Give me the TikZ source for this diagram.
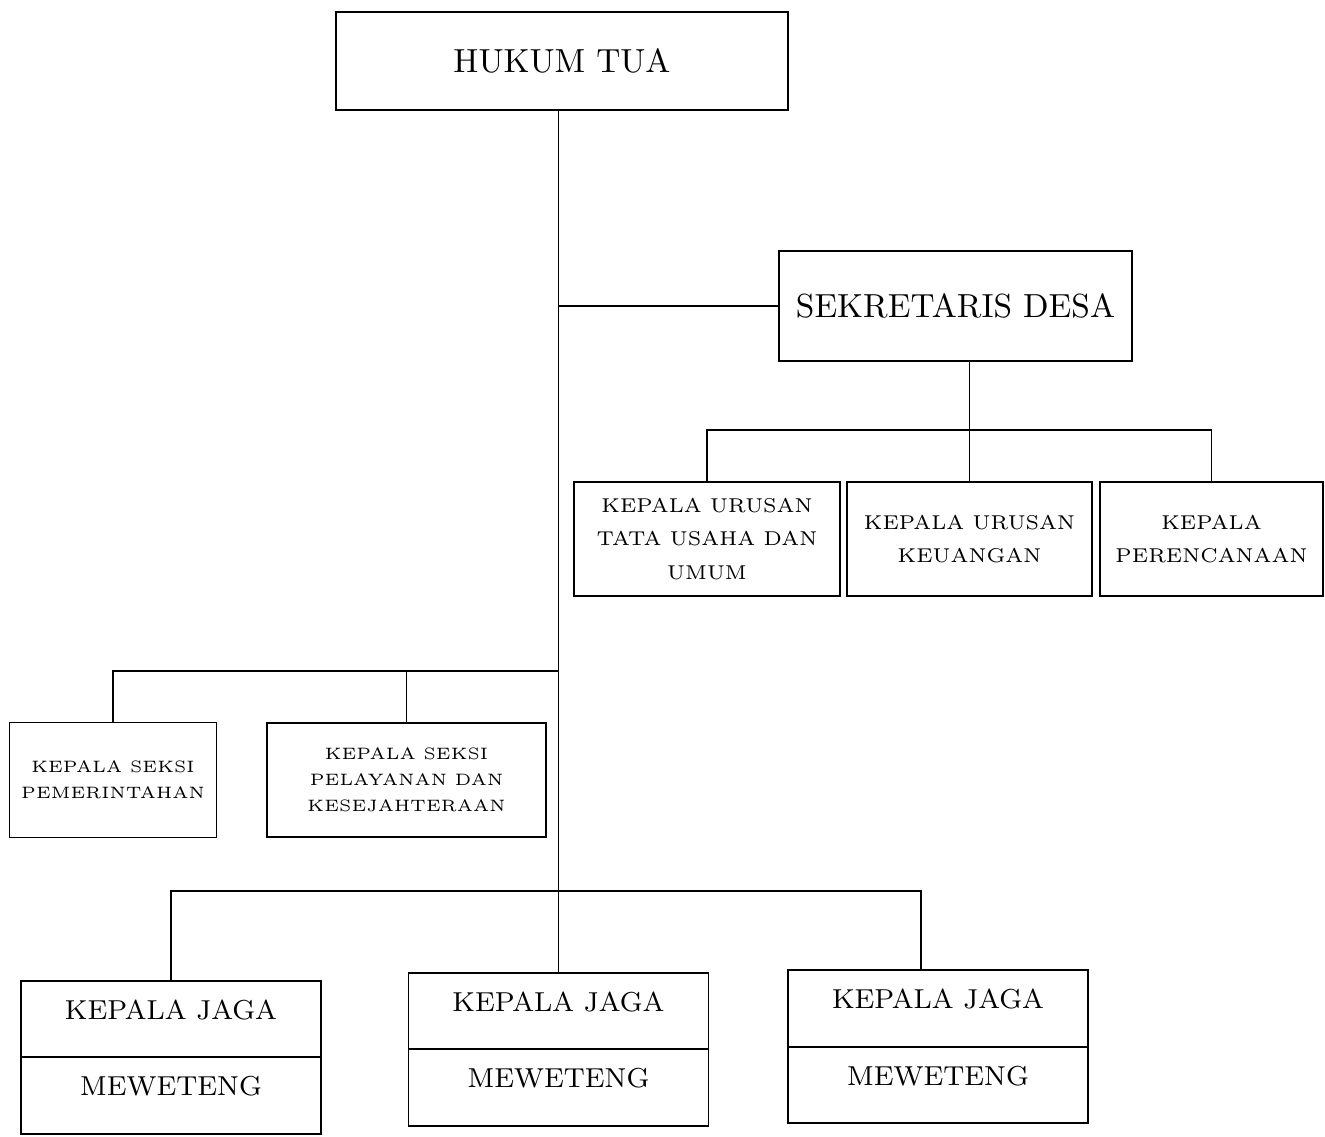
\documentclass[tikz,border=0pt]{standalone}
\usepackage{tikz}
\usetikzlibrary{positioning}

\begin{document}
\begin{tikzpicture}[node distance=2cm, line width=0.45pt]
    \tikzstyle{jabatan} = [draw, rectangle, font=\fontsize{9.5}{11}\selectfont]
    \tikzstyle{urusan} = [draw, rectangle, align=center, minimum height=1.14cm, font=\fontsize{5.7}{9.4}\selectfont]
    \tikzstyle{seksi} = [draw, rectangle, align=center, minimum height=1.15cm, font=\fontsize{4.7}{7.4}\selectfont]
    \tikzstyle{jaga} = [draw, rectangle, minimum width=3cm, minimum height=0.765cm, text height=1.9mm, text depth=1.9mm, font=\fontsize{7.8}{9}\selectfont]

    \useasboundingbox (0,0) rectangle (13.25,-11.36);

    \node [jabatan, minimum width=4.52cm, minimum height=0.98cm] (hukum) at (5.62,-0.61) {HUKUM TUA};
    \node [jabatan, below of=hukum, node distance=2.45cm, xshift=3.935cm, minimum width=3.53cm, minimum height=1.10cm] (sekdes) {SEKRETARIS DESA};

    \node [urusan, minimum width=2.66cm] (tatausaha) at (7.07,-5.39) {KEPALA URUSAN\\TATA USAHA DAN\\UMUM};
    \node [urusan, right of=tatausaha, node distance=2.625cm, minimum width=2.45cm] (keuangan) {KEPALA URUSAN\\KEUANGAN};
    \node [urusan, right of=keuangan, node distance=2.42cm, minimum width=2.23cm] (perencanaan) {KEPALA\\PERENCANAAN};

    \node [seksi, minimum width=2.06cm] (pemerintahan) at (1.13,-7.80) {KEPALA SEKSI\\PEMERINTAHAN};
    \node [seksi, right of=pemerintahan, node distance=2.935cm, minimum width=2.79cm, minimum height=1.14cm] (pelayanan) {KEPALA SEKSI\\PELAYANAN DAN\\KESEJAHTERAAN};

    \node [jaga] (jagaA) at (1.71,-10.19) {KEPALA JAGA};
    \node [jaga, below of=jagaA, node distance=0.765cm] (wilA) {MEWETENG};
    \node [jaga, right of=jagaA, node distance=3.875cm, yshift=0.08cm] (jagaB) {KEPALA JAGA};
    \node [jaga, below of=jagaB, node distance=0.765cm] (wilB) {MEWETENG};
    \node [jaga, right of=jagaB, node distance=3.795cm, yshift=0.025cm] (jagaC) {KEPALA JAGA};
    \node [jaga, below of=jagaC, node distance=0.765cm] (wilC) {MEWETENG};

    % garis komando
    \draw (hukum.south -| jagaB.north) -- (jagaB.north);
    \draw (sekdes.west) -- (sekdes.west -| jagaB.north);

    \draw (sekdes.south -| keuangan.north) -- (keuangan.north);
    \draw (tatausaha.north) -- ++(0,0.51) -| (perencanaan.north);

    \draw (pemerintahan.north) -- ++(0,0.51) coordinate (seksibar) -| (pelayanan.north);
    \draw (seksibar) -- (seksibar -| jagaB.north);

    \draw (jagaA.north) -- ++(0,0.89) -| ([xshift=-1.7mm]jagaC.north);
\end{tikzpicture}
\end{document}
